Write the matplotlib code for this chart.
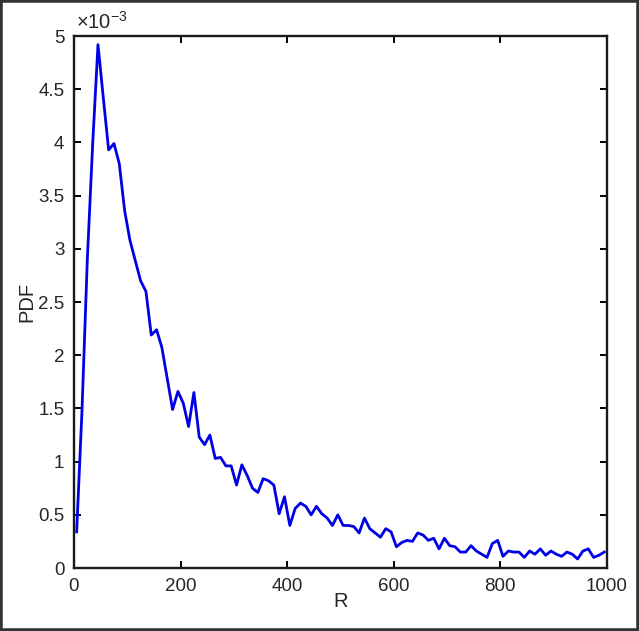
import matplotlib
matplotlib.use('Agg')
import matplotlib.pyplot as plt
import numpy as np
from matplotlib.patches import Rectangle


# bin centres of R and the PDF values (in units of 1e-3)
r_centres = np.arange(5, 1000, 10)
pdf_e3 = [
    0.34, 1.48, 2.90, 3.98, 4.92, 4.42, 3.93, 3.99, 3.80, 3.36,
    3.08, 2.89, 2.70, 2.60, 2.19, 2.24, 2.07, 1.78, 1.49, 1.66,
    1.55, 1.33, 1.65, 1.23, 1.16, 1.25, 1.03, 1.04, 0.96, 0.96,
    0.78, 0.97, 0.87, 0.75, 0.71, 0.84, 0.82, 0.78, 0.51, 0.67,
    0.40, 0.56, 0.61, 0.58, 0.50, 0.58, 0.51, 0.47, 0.40, 0.50,
    0.40, 0.40, 0.39, 0.33, 0.47, 0.37, 0.33, 0.29, 0.37, 0.34,
    0.20, 0.24, 0.26, 0.25, 0.33, 0.31, 0.26, 0.28, 0.18, 0.28,
    0.21, 0.20, 0.15, 0.15, 0.21, 0.16, 0.13, 0.10, 0.23, 0.26,
    0.11, 0.16, 0.15, 0.15, 0.10, 0.16, 0.13, 0.18, 0.12, 0.16,
    0.13, 0.11, 0.15, 0.13, 0.085, 0.16, 0.18, 0.10, 0.12, 0.15,
]
pdf = np.array(pdf_e3) * 1e-3

x_ticks = [0, 200, 400, 600, 800, 1000]
y_ticks_e3 = [0, 0.5, 1, 1.5, 2, 2.5, 3, 3.5, 4, 4.5, 5]

plt.rcParams['font.family'] = ['Liberation Sans', 'DejaVu Sans']
plt.rcParams['mathtext.fontset'] = 'custom'
plt.rcParams['mathtext.rm'] = 'Liberation Sans'
plt.rcParams['mathtext.it'] = 'Liberation Sans'

txt_col = '#262626'

fig = plt.figure(figsize=(6.39, 6.31), dpi=100)
ax = fig.add_axes([0.1158, 0.0998, 0.834, 0.843])

ax.plot(r_centres, pdf, color='#0000e6', linewidth=2.0)

ax.set_xlim(0, 1000)
ax.set_ylim(0, 5e-3)
ax.set_xticks(x_ticks)
ax.set_xticklabels([str(t) for t in x_ticks])
ax.set_yticks([v * 1e-3 for v in y_ticks_e3])
ax.set_yticklabels([f'{v:g}' for v in y_ticks_e3])

ax.tick_params(direction='in', top=True, right=True, length=5, width=1.4,
               labelsize=13.5, labelcolor=txt_col, pad=7)
for sp in ax.spines.values():
    sp.set_linewidth(1.7)
    sp.set_color('#1a1a1a')

ax.set_xlabel('R', fontsize=14.5, color=txt_col, labelpad=-2)
ax.set_ylabel('PDF', fontsize=14.5, color=txt_col, labelpad=1)

ax.text(0.004, 1.006, r'$\times10^{-3}$', transform=ax.transAxes,
        fontsize=14.5, color=txt_col, ha='left', va='bottom')

# dark frame around the whole picture
fig.add_artist(Rectangle((0, 0), 1, 1, transform=fig.transFigure, fill=False,
                         linewidth=4, edgecolor='#333333'))

fig.savefig('out.png', dpi=100)
